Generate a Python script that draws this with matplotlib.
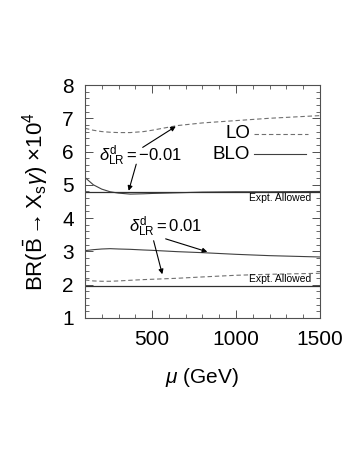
import numpy as np
import matplotlib
matplotlib.use("Agg")
import matplotlib.pyplot as plt
from matplotlib.ticker import MultipleLocator

plt.rcParams['font.family'] = ['Liberation Sans', 'DejaVu Sans']
plt.rcParams['mathtext.fontset'] = 'custom'
plt.rcParams['mathtext.rm'] = 'Liberation Sans'
plt.rcParams['mathtext.it'] = 'Liberation Sans:italic'
plt.rcParams['mathtext.bf'] = 'Liberation Sans:bold'

# ---- data ----
mu = [100, 150, 200, 250, 300, 370, 450, 500, 650, 800, 1000, 1200, 1500]
lo_neg = [6.70, 6.64, 6.60, 6.58, 6.57, 6.57, 6.60, 6.64, 6.78, 6.86, 6.93, 7.00, 7.08]
blo_neg = [5.22, 5.00, 4.87, 4.79, 4.75, 4.72, 4.73, 4.74, 4.76, 4.78, 4.79, 4.79, 4.80]
blo_pos = [3.02, 3.05, 3.07, 3.08, 3.07, 3.06, 3.04, 3.03, 2.99, 2.96, 2.91, 2.87, 2.83]
lo_pos = [2.14, 2.11, 2.10, 2.10, 2.11, 2.13, 2.15, 2.16, 2.19, 2.23, 2.28, 2.31, 2.34]
expt = [1.97, 4.79]

fig = plt.figure(figsize=(3.57, 4.62), dpi=100)
ax = fig.add_axes([0.238, 0.312, 0.658, 0.504])

dash_c = '#707070'
solid_c = '#404040'
ax.plot(mu, lo_neg, '--', color=dash_c, lw=0.8, dashes=(4, 2.5))
ax.plot(mu, lo_pos, '--', color=dash_c, lw=0.8, dashes=(4, 2.5))
ax.plot(mu, blo_neg, '-', color=solid_c, lw=0.8)
ax.plot(mu, blo_pos, '-', color=solid_c, lw=0.8)
for e in expt:
    ax.axhline(e, color='#303030', lw=0.9)

ax.text(1450, 4.60, 'Expt. Allowed', fontsize=7.5, ha='right', va='center')
ax.text(1450, 2.17, 'Expt. Allowed', fontsize=7.5, ha='right', va='center')

# legend drawn by hand
ax.text(1083, 6.53, 'LO', fontsize=13.5, ha='right', va='center')
ax.plot([1110, 1430], [6.53, 6.53], '--', color=dash_c, lw=0.8, dashes=(4, 2.5))
ax.text(1083, 5.92, 'BLO', fontsize=13.5, ha='right', va='center')
ax.plot([1110, 1420], [5.92, 5.92], '-', color=solid_c, lw=0.8)

aprops = dict(arrowstyle='-|>', color='black', lw=0.8, mutation_scale=7)
ax.text(430, 5.88, r'$\delta^{\rm d}_{\rm LR} = -0.01$', fontsize=12, ha='center', va='center')
ax.annotate('', xy=(655, 6.80), xytext=(430, 6.08), arrowprops=aprops)
ax.annotate('', xy=(356, 4.74), xytext=(410, 5.70), arrowprops=aprops)

ax.text(580, 3.73, r'$\delta^{\rm d}_{\rm LR} = 0.01$', fontsize=12, ha='center', va='center')
ax.annotate('', xy=(845, 2.96), xytext=(565, 3.40), arrowprops=aprops)
ax.annotate('', xy=(565, 2.23), xytext=(505, 3.40), arrowprops=aprops)

ax.set_xlim(100, 1500)
ax.set_ylim(1, 8)
ax.set_xticks([500, 1000, 1500])
ax.xaxis.set_minor_locator(MultipleLocator(100))
ax.yaxis.set_major_locator(MultipleLocator(1))
ax.yaxis.set_minor_locator(MultipleLocator(0.2))
ax.tick_params(which='both', direction='in', top=True, right=True, labelsize=15,
               color='#505050')
ax.tick_params(which='major', length=6, width=0.7)
ax.tick_params(which='minor', length=3, width=0.6)
ax.tick_params(axis='x', pad=9)
ax.tick_params(axis='y', pad=8)
for s in ax.spines.values():
    s.set_color('#505050')
    s.set_linewidth(0.8)

ax.set_xlabel(r'$\mu$ (GeV)', fontsize=15, labelpad=12)
ax.set_ylabel(r'BR($\bar{\rm B} \rightarrow {\rm X_s}\gamma$) $\times 10^4$', fontsize=16,
              labelpad=8)

fig.savefig('out.png', dpi=100)
